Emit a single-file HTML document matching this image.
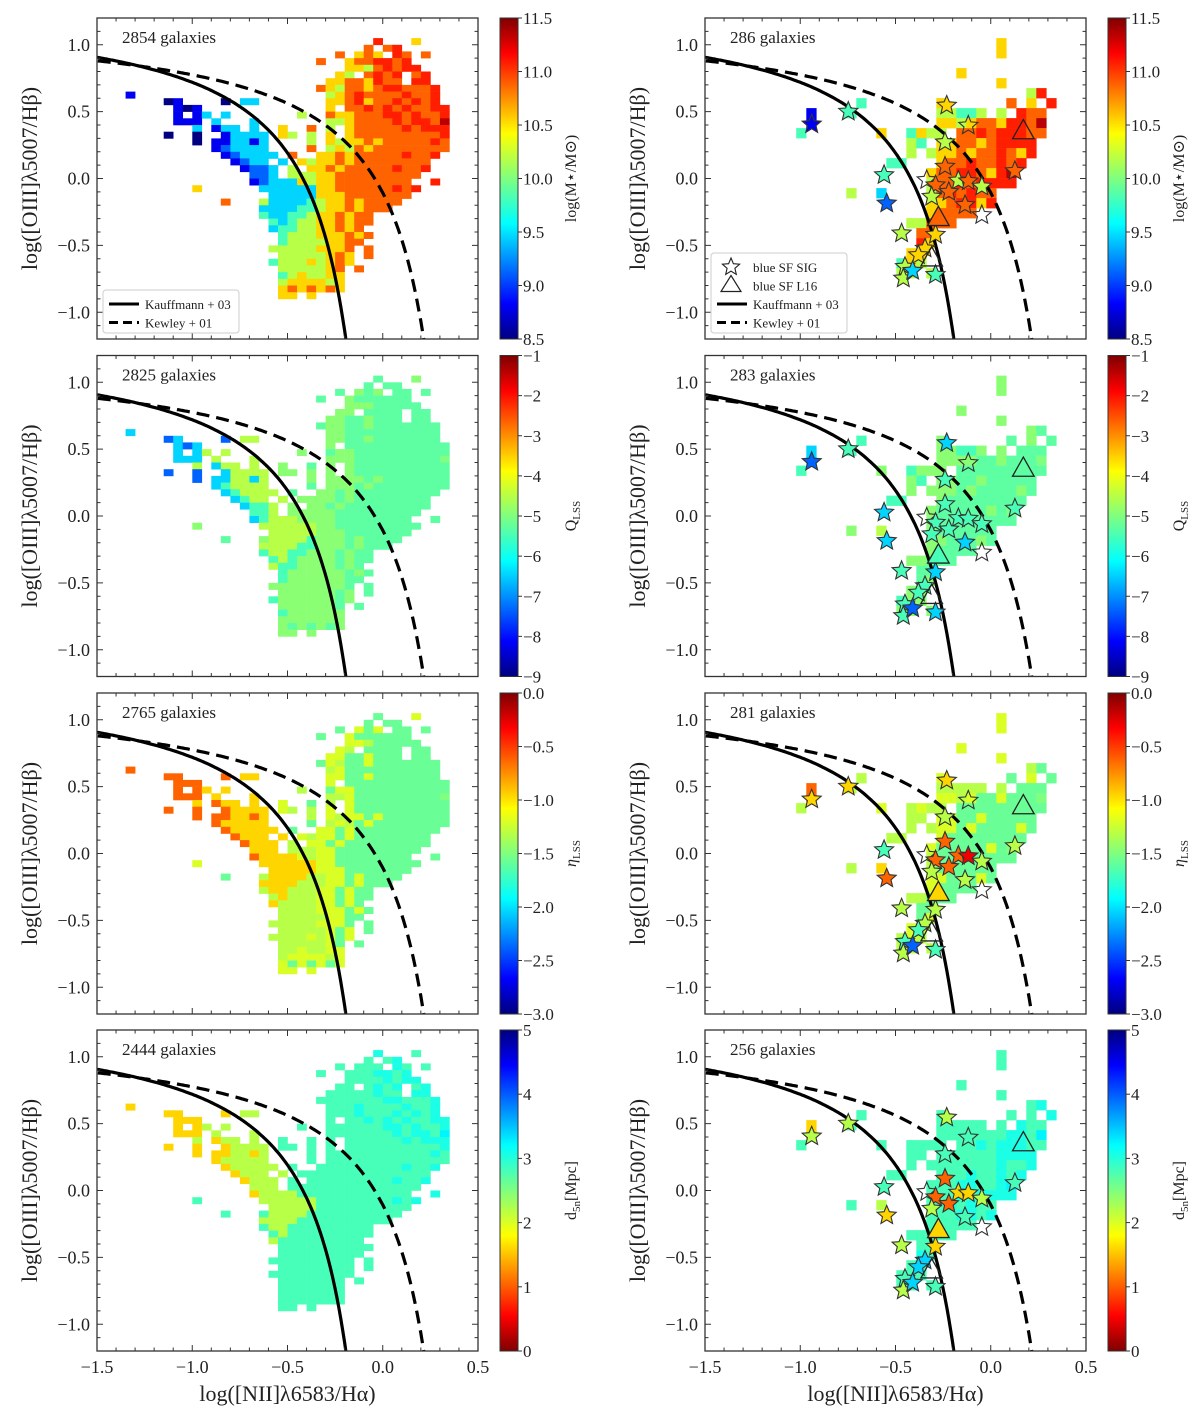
<!DOCTYPE html>
<html><head><meta charset="utf-8">
<style>
html,body{margin:0;padding:0;background:#fff;}
svg{display:block;}
text{font-family:"Liberation Serif","DejaVu Serif",serif;fill:#222;}
</style></head>
<body>
<svg id="fig" width="1200" height="1425" viewBox="0 0 1200 1425" xmlns="http://www.w3.org/2000/svg">
<defs>
<linearGradient id="jet" x1="0" y1="1" x2="0" y2="0">
<stop offset="0" stop-color="#00007f"/><stop offset="0.11" stop-color="#0000ff"/><stop offset="0.36" stop-color="#00ffff"/><stop offset="0.5" stop-color="#7fff7f"/><stop offset="0.64" stop-color="#ffff00"/><stop offset="0.89" stop-color="#ff0000"/><stop offset="1" stop-color="#7f0000"/>
</linearGradient>
<linearGradient id="jetr" x1="0" y1="0" x2="0" y2="1">
<stop offset="0" stop-color="#00007f"/><stop offset="0.11" stop-color="#0000ff"/><stop offset="0.36" stop-color="#00ffff"/><stop offset="0.5" stop-color="#7fff7f"/><stop offset="0.64" stop-color="#ffff00"/><stop offset="0.89" stop-color="#ff0000"/><stop offset="1" stop-color="#7f0000"/>
</linearGradient>
</defs>
</svg>
<script>
// ---------- data ----------
const galaxyCountsLeft = ["2854","2825","2765","2444"];
const galaxyCountsRight = ["286","283","281","256"];
const xTicks = [-1.5,-1.0,-0.5,0.0,0.5];
const yTicks = [-1.0,-0.5,0.0,0.5,1.0];
const cbTicks1 = [8.5,9.0,9.5,10.0,10.5,11.0,11.5];
const cbTicks2 = [-9,-8,-7,-6,-5,-4,-3,-2,-1];
const cbTicks3 = [-3.0,-2.5,-2.0,-1.5,-1.0,-0.5,0.0];
const cbTicks4 = [0,1,2,3,4,5];
// full sample binned heatmap (x from -1.4 step 0.05, y from 1.05 step -0.05); digits = mass class
const gridLeft = [
".... .... .... .... .... .... ...8 ...6 ....",
".... .... .... .... .... .... ..7. 78.. ....",
".... .... .... .... .... ...7 .676 .87. 7...",
".... .... .... .... .... .7.. 6778 878. ....",
".... .... .... .... .... .... 6657 8788 ....",
".... .... .... .... .... ...6 5.78 78.7 8...",
".... .... .... .... .... ..66 7768 77.8 8...",
".... .... .... .... .... .765 7767 8877 78..",
".1.. .... .... .... .... ..56 7877 7787 78..",
".... .01. ...0 .33. .... ..66 7867 7878 78..",
".... ..10 1... .... .... ..6. 7787 8787 788.",
".... ..1. 13.3 .... ...5 ..76 6777 8878 778.",
".... ..11 1.3. ..3. .... ..55 6777 7878 879.",
".... .... 3.13 3.3. .6.. 7.5. 6777 7787 888.",
".... .0.. 0..1 3333 .65. 5.6. 6777 7777 778.",
".... .... 0.11 3313 .... 5.65 6676 7777 787.",
".... .... ..12 3333 .... 7.56 5767 7777 777.",
".... .... ...1 2333 3.7. .667 6777 7787 78..",
".... .... .... 1233 .3.6 5667 6777 7777 7...",
".... .... .... .122 3.5. 6676 7777 7877 8...",
".... .... .... ..22 3.55 5667 7777 7777 ....",
".... .... .... ..12 3336 5667 7777 777. .8..",
".... .... 6... ...3 3333 3667 7777 7878 ....",
".... .... .... .... 3333 3666 7777 777. ....",
".... .... ...7 ...5 3333 4566 7677 77.. ....",
".... .... .... ...3 3334 4566 7677 7... ....",
".... .... .... ...4 3344 5667 677. .... ....",
".... .... .... .... 4345 5667 677. .... ....",
".... .... .... .... 3445 5667 67.. .... ....",
".... .... .... .... .455 5666 767. .... ....",
".... .... .... .... .455 5566 77.. .... ....",
".... .... .... .... 5555 5666 7.7. .... ....",
".... .... .... .... .555 5567 6.7. .... ....",
".... .... .... .... 4555 6567 6... .... ....",
".... .... .... .... .555 5567 .7.. .... ....",
".... .... .... .... .456 5566 .... .... ....",
".... .... .... .... .566 6656 .... .... ....",
".... .... .... .... .676 7676 .... .... ....",
".... .... .... .... .66. 6... .... .... ...."
];
// blue SF subsample heatmap (x from -1.021 step 0.0525, y from 1.05 step -0.0748)
const gridRight = [
"..... ..... ..... ..... 6.... .....",
"..... ..... ..... ..... 6.... .....",
"..... ..... ..... ..... ..... .....",
"..... ..... ..... .6... ..... .....",
"..... ..... ..... ..... 6.... .....",
"..... ..... ..... ..... ...58 .....",
"..... .4... ....6 ..... .7.6. 8....",
".1... 4.... ....5 5445. 5.877 .....",
".1... ..... ....6 65677 68879 .....",
"4.... ...6. .4655 .7787 88877 .....",
"..... ..... .54.6 67767 8888. .....",
"..... ..... .5.56 67677 8768. .....",
"..... ....4 4...6 77877 878.. .....",
"..... ..... ...67 78876 89... .....",
"..... ..... ...57 78788 88... .....",
"..... 5..3. ...57 87877 ..... .....",
"..... ..... ...66 78868 ..... .....",
"..... ..... ...67 777.. ..... .....",
"..... ..... .5577 7.... ..... .....",
"..... ..... ..77. ..... ..... .....",
"..... ..... ..86. ..... ..... .....",
"..... ..... .66.. ..... ..... .....",
"..... ..... 465.. ..... ..... .....",
"..... ..... 55.5. ..... ..... ....."
];
// per-panel colour class for each mass class (jet index 0..9)
const colorMap1 = [0,1,2,3,4,5,6,7,7.6,8.5];
const colorMap2 = [2,3,4,5,4,4.6,4.6,4.2,4.2,4.5];
const colorMap3 = [7,7,6,6,5,5,5.3,4.3,4.3,4.5];
const colorMap4 = [6,6,5,5,4,4,4,4,3.6,3.3];
// blue SF SIG stars
const starX = [-0.748,-0.94,-0.231,-0.118,-0.24,-0.24,-0.56,-0.546,0.127,-0.336,-0.17,-0.118,-0.047,-0.29,-0.22,-0.31,-0.135,-0.047,-0.468,-0.29,-0.345,-0.38,-0.45,-0.459,-0.29,-0.41];
const starY = [0.50,0.405,0.546,0.396,0.271,0.089,0.026,-0.186,0.056,-0.011,-0.016,-0.02,-0.06,-0.05,-0.1,-0.136,-0.198,-0.273,-0.41,-0.42,-0.523,-0.573,-0.66,-0.747,-0.72,-0.69];
const starC1 = [4,1,6,-1,5,7,4,2,7,-1,5,7,5,7,7,5,7,-1,5,6,6,6,5,5,4,3];
const starC2 = [4,2,3,-1,4,4,3,3,4,-1,4,4,4,4,4,4,3,-1,4,3,4,4,4,4,3,2];
const starC3 = [6,6,6,-1,5,7,4,7,5,-1,7,8,5,7,7,5,5,-1,5,5,5,4,4,5,4,2];
const starC4 = [5,5,5,-1,4,7,4,6,4,-1,6,6,5,7,7,5,4,-1,5,6,3,3,4,5,4,3];
// blue SF L16 triangles
const triX = [0.171,-0.275,-0.31];
const triY = [0.351,-0.298,-0.60];
const triC1 = [-1,7,-1];
const triC2 = [-1,4,-1];
const triC3 = [-1,6,-1];
const triC4 = [-1,6,-1];

// ---------- drawing ----------
const NS="http://www.w3.org/2000/svg";
const svg=document.getElementById('fig');
const LEFTS=[97,705], TOPS=[18,355.5,693,1030], W=381, H=321;
function sx(x,col){return LEFTS[col]+(x+1.5)*W/2.0;}
function sy(y,row){return TOPS[row]+(1.2-y)*H/2.4;}
function jet(d){const v=d/9;const c=t=>Math.round(255*Math.max(0,Math.min(1,1.5-Math.abs(4*v-t))));return `rgb(${c(3)},${c(2)},${c(1)})`;}
function mk(tag,attrs,parent){const e=document.createElementNS(NS,tag);for(const k in attrs)e.setAttribute(k,attrs[k]);(parent||svg).appendChild(e);return e;}
function txt(s,attrs,parent){const e=mk('text',attrs,parent);e.textContent=s;return e;}
const fmt=v=>(v<0?'\u2212':'')+Math.abs(v).toFixed(1);

const maps=[colorMap1,colorMap2,colorMap3,colorMap4];
const starCs=[starC1,starC2,starC3,starC4];
const triCs=[triC1,triC2,triC3,triC4];
const cbTicks=[cbTicks1,cbTicks2,cbTicks3,cbTicks4];
const cbRange=[[8.5,11.5],[-9,-1],[-3,0],[0,5]];
const cbLabels=["log(M\u22C6/M\u2299)","Q","\u03B7","d"];
const cbSubs=["","LSS","LSS","5n"];

function starPath(cx,cy,r){let p='';for(let k=0;k<10;k++){const a=-Math.PI/2+k*Math.PI/5;const rr=k%2?r*0.45:r;p+=(k?'L':'M')+(cx+rr*Math.cos(a)).toFixed(1)+','+(cy+rr*Math.sin(a)).toFixed(1);}return p+'Z';}

for(let row=0;row<4;row++){
  for(let col=0;col<2;col++){
    const g=mk('g',{});
    
    
    const L=LEFTS[col],T=TOPS[row];
    const clip=mk('clipPath',{id:`c${row}${col}`},g);
    mk('rect',{x:L,y:T,width:W,height:H},clip);
    const plot=mk('g',{'clip-path':`url(#c${row}${col})`},g);
    const hm=mk('g',{},plot);
    
    
    const grid=col?gridRight:gridLeft;
    const x0=col?-1.021:-1.4, y0=1.05, dx=col?0.0525:0.05, dy=col?0.0748:0.05;
    grid.forEach((s,i)=>{
      const r=s.replace(/ /g,'');
      for(let j=0;j<r.length;j++){
        const ch=r[j]; if(ch==='.')continue;
        const d=maps[row][+ch];
        const xa=sx(x0+j*dx,col), xb=sx(x0+(j+1)*dx,col), ya=sy(y0-i*dy,row), yb=sy(y0-(i+1)*dy,row);
        const c=mk('rect',{x:xa.toFixed(1),y:ya.toFixed(1),width:(xb-xa+0.3).toFixed(1),height:(yb-ya+0.3).toFixed(1),fill:jet(d)},hm);
        
        
      }
    });
    let pk='',pw='';
    for(let x=-1.6;x<0.04;x+=0.01){const y=0.61/(x-0.05)+1.3; if(y<-1.4)break; pk+=(pk?'L':'M')+sx(x,col).toFixed(1)+','+sy(y,row).toFixed(1);}
    for(let x=-1.6;x<0.46;x+=0.01){const y=0.61/(x-0.47)+1.19; if(y<-1.4)break; pw+=(pw?'L':'M')+sx(x,col).toFixed(1)+','+sy(y,row).toFixed(1);}
    const k1=mk('path',{d:pk,fill:'none',stroke:'#000','stroke-width':3.2},plot);
    
    
    const k2=mk('path',{d:pw,fill:'none',stroke:'#000','stroke-width':3.2,'stroke-dasharray':'13,7'},plot);
    
    
    if(col===1){
      starX.forEach((x,k)=>{
        const c=starCs[row][k];
        const s=mk('path',{d:starPath(sx(x,col),sy(starY[k],row),10),fill:c<0?'none':jet(c),stroke:'#333','stroke-width':1.1},plot);
        
        
      });
      triX.forEach((x,k)=>{
        const c=triCs[row][k];const cx=sx(x,col),cy=sy(triY[k],row),r=12;
        const t=mk('path',{d:`M${cx},${cy-r}L${cx+r*0.9},${cy+r*0.6}L${cx-r*0.9},${cy+r*0.6}Z`,fill:c<0?'none':jet(c),stroke:'#222','stroke-width':1.3},plot);
        
        
      });
    }
    mk('rect',{x:L,y:T,width:W,height:H,fill:'none',stroke:'#333','stroke-width':1.3},g);
    for(let v=-1.5;v<=0.501;v+=0.1){const X=sx(v,col);const major=Math.abs(v*2-Math.round(v*2))<1e-6;const len=major?6:3.5;
      mk('line',{x1:X,y1:T+H,x2:X,y2:T+H-len,stroke:'#333'},g);mk('line',{x1:X,y1:T,x2:X,y2:T+len,stroke:'#333'},g);}
    for(let v=-1.2;v<=1.201;v+=0.1){const Y=sy(v,row);const major=Math.abs(v*2-Math.round(v*2))<1e-6;const len=major?6:3.5;
      mk('line',{x1:L,y1:Y,x2:L+len,y2:Y,stroke:'#333'},g);mk('line',{x1:L+W,y1:Y,x2:L+W-len,y2:Y,stroke:'#333'},g);}
    yTicks.forEach(v=>{const t=txt(fmt(v),{x:L-7,y:sy(v,row)+6,'font-size':18,'text-anchor':'end'},g);
      });
    if(row===3){
      xTicks.forEach(v=>{const t=txt(fmt(v),{x:sx(v,col),y:T+H+22,'font-size':18,'text-anchor':'middle'},g);
        });
      const xt=txt('log([NII]\u03BB6583/H\u03B1)',{x:L+W/2,y:T+H+50,'font-size':22,'text-anchor':'middle'},g);
      
    }
    const yt=txt('log([OIII]\u03BB5007/H\u03B2)',{x:0,y:0,'font-size':22,'text-anchor':'middle',transform:`translate(${L-60},${T+H/2}) rotate(-90)`},g);
    
    const cnt=txt((col?galaxyCountsRight:galaxyCountsLeft)[row]+' galaxies',{x:L+25,y:T+25,'font-size':17},g);
    
    if(row===0){
      const lg=mk('g',{},g);
      
      
      const items=col?[['star','blue SF SIG'],['tri','blue SF L16'],['solid','Kauffmann + 03'],['dash','Kewley + 01']]:[['solid','Kauffmann + 03'],['dash','Kewley + 01']];
      const bh=items.length*18.5+6, by=T+H-6-bh;
      mk('rect',{x:L+6,y:by,width:136,height:bh,fill:'#fff',stroke:'#ccc',rx:3},lg);
      items.forEach((it,k)=>{const yy=by+14+k*18.5;
        if(it[0]==='solid')mk('line',{x1:L+12,y1:yy,x2:L+42,y2:yy,stroke:'#000','stroke-width':3},lg);
        if(it[0]==='dash')mk('line',{x1:L+12,y1:yy,x2:L+42,y2:yy,stroke:'#000','stroke-width':3,'stroke-dasharray':'9,5'},lg);
        if(it[0]==='star')mk('path',{d:starPath(L+26,yy,9),fill:'none',stroke:'#222','stroke-width':1.1},lg);
        if(it[0]==='tri')mk('path',{d:`M${L+26},${yy-10}L${L+36},${yy+6}L${L+16},${yy+6}Z`,fill:'none',stroke:'#222','stroke-width':1.2},lg);
        const t=txt(it[1],{x:L+48,y:yy+5,'font-size':13},lg);
        
      });
    }
    const CX=col?1108:500, CW=18;
    const cb=mk('g',{},g);
    
    
    mk('rect',{x:CX,y:T,width:CW,height:H,fill:row===3?'url(#jetr)':'url(#jet)',stroke:'#333','stroke-width':1},cb);
    const [lo,hi]=cbRange[row];
    cbTicks[row].forEach(v=>{const Y=T+H-(v-lo)/(hi-lo)*H;
      mk('line',{x1:CX+CW,y1:Y,x2:CX+CW+4,y2:Y,stroke:'#333'},cb);
      const s=(row===1||row===3)?(v<0?'\u2212':'')+Math.abs(v):fmt(v);
      const t=txt(s,{x:CX+CW+5,y:Y+6,'font-size':17},cb);
      });
    const lbl=mk('text',{x:0,y:0,'font-size':16,'text-anchor':'middle',transform:`translate(${CX+76},${T+H/2}) rotate(-90)`},cb);
    
    lbl.textContent=cbLabels[row];
    if(row===2)lbl.setAttribute('font-style','italic');
    if(cbSubs[row]){const ts=document.createElementNS(NS,'tspan');ts.setAttribute('font-size','11');ts.setAttribute('dy','4');ts.setAttribute('font-style','normal');ts.textContent=cbSubs[row];lbl.appendChild(ts);
      if(row===3){const t2=document.createElementNS(NS,'tspan');t2.setAttribute('dy','-4');t2.textContent='[Mpc]';lbl.appendChild(t2);}}
  }
}
</script>
</body></html>
